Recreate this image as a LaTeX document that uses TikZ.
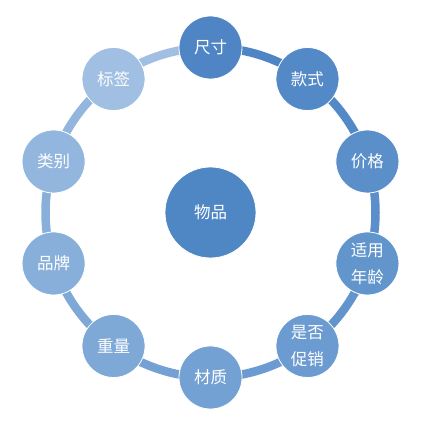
\documentclass[tikz,border=0pt]{standalone}
\usepackage{fontspec}
\newfontfamily\cjk{Noto Sans CJK SC}
\usetikzlibrary{calc}
\definecolor{cm}{RGB}{79,134,196}
\definecolor{k0}{RGB}{79,133,196}
\definecolor{k1}{RGB}{84,137,199}
\definecolor{k2}{RGB}{91,143,202}
\definecolor{k3}{RGB}{99,149,205}
\definecolor{k4}{RGB}{107,155,208}
\definecolor{k5}{RGB}{116,161,211}
\definecolor{k6}{RGB}{126,168,214}
\definecolor{k7}{RGB}{136,175,218}
\definecolor{k8}{RGB}{147,182,222}
\definecolor{k9}{RGB}{160,191,227}
\begin{document}
\begin{tikzpicture}[x=1pt,y=1pt,
  ball/.style={circle, draw=white, line width=0.8pt, minimum size=63pt, inner sep=0pt,
    text=white, font=\cjk\fontsize{16.5}{27}\selectfont, align=center},
  bigball/.style={ball, minimum size=91pt},
  ring/.style={line width=8.5pt}]
\useasboundingbox (0,0) rectangle (428,429);
\coordinate (c) at (210.5,216.5);
\foreach \i in {0,...,9}{
  \draw[ring, k\i] ($(c)+(90-36*\i:165)$) arc[start angle=90-36*\i, end angle=54-36*\i, radius=165];
}
\node[bigball, fill=cm] (m) at (c) {物品};
\node[ball, fill=k0] (n0) at ($(c)+(90:165)$) {尺寸};
\node[ball, fill=k1] (n1) at ($(c)+(54:165)$) {款式};
\node[ball, fill=k2] (n2) at ($(c)+(18:165)$) {价格};
\node[ball, fill=k3] (n3) at ($(c)+(-18:165)$) {适用\\年龄};
\node[ball, fill=k4] (n4) at ($(c)+(-54:165)$) {是否\\促销};
\node[ball, fill=k5] (n5) at ($(c)+(-90:165)$) {材质};
\node[ball, fill=k6] (n6) at ($(c)+(-126:165)$) {重量};
\node[ball, fill=k7] (n7) at ($(c)+(-162:165)$) {品牌};
\node[ball, fill=k8] (n8) at ($(c)+(162:165)$) {类别};
\node[ball, fill=k9] (n9) at ($(c)+(126:165)$) {标签};
\end{tikzpicture}
\end{document}
